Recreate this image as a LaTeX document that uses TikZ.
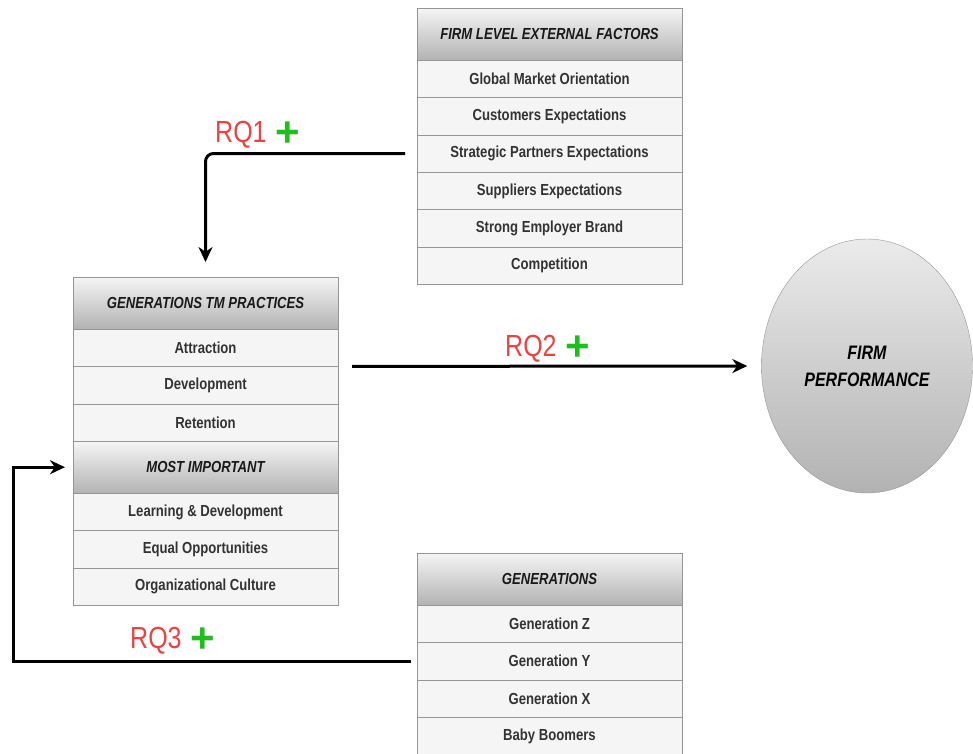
\documentclass[tikz,border=0pt]{standalone}
\usepackage{fontspec}
\setmainfont[FakeStretch=0.82]{Liberation Sans}
\newfontfamily\plusfont{Liberation Sans}
\usetikzlibrary{shapes.geometric, arrows.meta, positioning}
\definecolor{rqred}{RGB}{234,67,67}
\definecolor{plusgreen}{RGB}{30,190,30}
\definecolor{rowgray}{RGB}{245,245,245}
\definecolor{linegray}{RGB}{150,150,150}
\tikzstyle{tabhead} = [rectangle, minimum width=265pt, minimum height=52pt, inner sep=0pt, outer sep=0pt, draw=linegray, top color=rowgray, bottom color=black!30, text=black!90, font=\fontsize{16}{18}\selectfont\bfseries\itshape]
\tikzstyle{tabrow} = [rectangle, minimum width=265pt, minimum height=37.4pt, inner sep=0pt, outer sep=0pt, draw=linegray, fill=rowgray, text=black!80, font=\fontsize{16}{18}\selectfont\bfseries]
\tikzstyle{outcome} = [ellipse, minimum width=211pt, minimum height=254pt, draw=linegray, top color=black!8, bottom color=black!30, align=center, font=\fontsize{19.5}{27}\selectfont\bfseries\itshape]
\tikzstyle{arrow} = [line width=3pt, -{Stealth[length=15pt,width=14pt]}]
\tikzstyle{rq} = [text=rqred, inner sep=0pt, anchor=base west, font=\fontsize{30.5}{30}\selectfont]
\newcommand{\plus}{\hspace{9pt}\raisebox{-4.5pt}{\textcolor{plusgreen}{\plusfont\fontsize{42}{42}\selectfont\bfseries +}}}

\begin{document}
\begin{tikzpicture}[x=1pt, y=-1pt]
\useasboundingbox (0,0) rectangle (973,753);

% Firm level external factors
\node (ext) [tabhead, anchor=north west] at (417,8) {FIRM LEVEL EXTERNAL FACTORS};
\node (ext1) [tabrow, below=0pt of ext] {Global Market Orientation};
\node (ext2) [tabrow, below=0pt of ext1] {Customers Expectations};
\node (ext3) [tabrow, below=0pt of ext2] {Strategic Partners Expectations};
\node (ext4) [tabrow, below=0pt of ext3] {Suppliers Expectations};
\node (ext5) [tabrow, below=0pt of ext4] {Strong Employer Brand};
\node (ext6) [tabrow, below=0pt of ext5] {Competition};

% TM practices
\node (tm) [tabhead, anchor=north west] at (73,277) {GENERATIONS TM PRACTICES};
\node (tm1) [tabrow, below=0pt of tm] {Attraction};
\node (tm2) [tabrow, below=0pt of tm1] {Development};
\node (tm3) [tabrow, below=0pt of tm2] {Retention};
\node (imp) [tabhead, below=0pt of tm3] {MOST IMPORTANT};
\node (imp1) [tabrow, below=0pt of imp] {Learning \& Development};
\node (imp2) [tabrow, below=0pt of imp1] {Equal Opportunities};
\node (imp3) [tabrow, below=0pt of imp2] {Organizational Culture};

% Generations
\node (gen) [tabhead, anchor=north west] at (417,553) {GENERATIONS};
\node (gen1) [tabrow, below=0pt of gen] {Generation Z};
\node (gen2) [tabrow, below=0pt of gen1] {Generation Y};
\node (gen3) [tabrow, below=0pt of gen2] {Generation X};
\node (gen4) [tabrow, below=0pt of gen3] {Baby Boomers};

% Outcome
\node (perf) [outcome] at (867,366) {FIRM\\PERFORMANCE};

% Arrows
\draw [arrow, rounded corners=8pt] ([xshift=-12pt]ext3.west) -| ([yshift=15pt]tm.north);
\draw [arrow] ([xshift=14pt]tm1.south east) -- ([xshift=-14pt]perf.west);
\draw [arrow] ([xshift=-6pt]gen2.west) -| ([xshift=-60pt]imp.west) -- ([xshift=-8pt]imp.west);

% Labels
\node (rq1) [rq] at (215,142) {RQ1\plus};
\node (rq2) [rq] at (505,356) {RQ2\plus};
\node (rq3) [rq] at (130,648) {RQ3\plus};

\end{tikzpicture}
\end{document}
